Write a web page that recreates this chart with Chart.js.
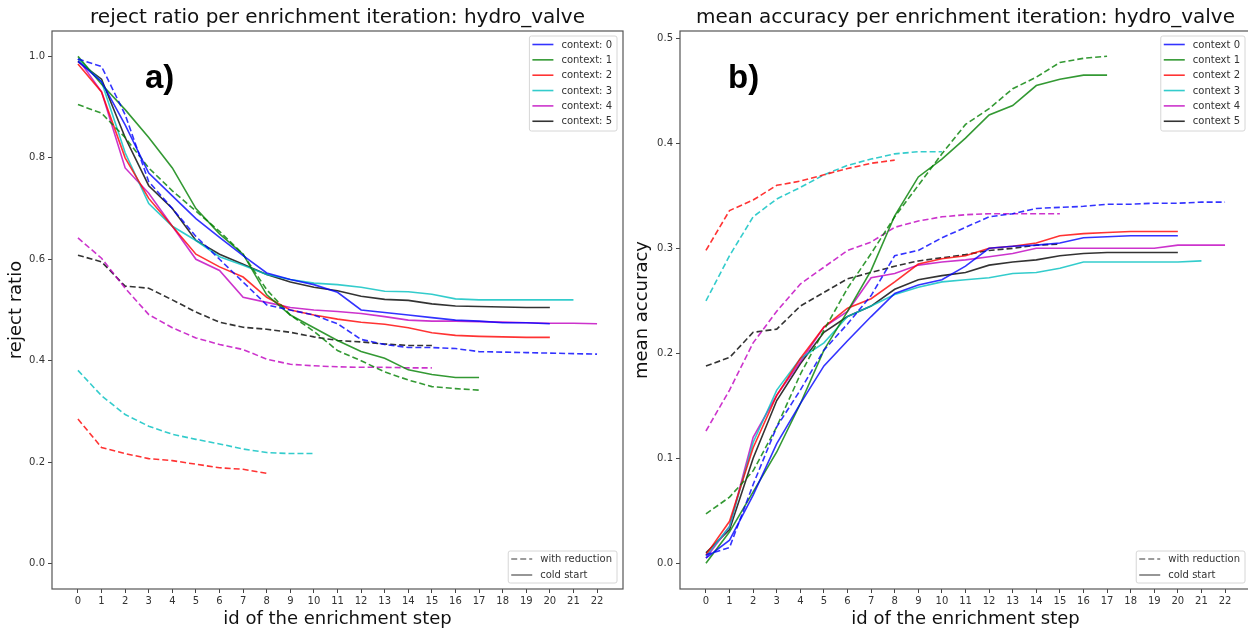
<!DOCTYPE html>
<html>
<head>
<meta charset="utf-8">
<script src="https://cdn.jsdelivr.net/npm/chart.js@4.4.1/dist/chart.umd.min.js"></script>
<style>
  html, body { margin: 0; padding: 0; background: #fff; overflow: hidden; }
  #wrap { position: relative; width: 1248px; height: 633px; overflow: hidden; }
  #c1 { position: absolute; left: 0; top: 0; }
  #c2 { position: absolute; left: 624px; top: 0; }
</style>
</head>
<body>
<div id="wrap">
  <canvas id="c1" width="624" height="633" style="width:624px;height:633px"></canvas>
  <canvas id="c2" width="632" height="633" style="width:632px;height:633px"></canvas>
</div>
<script>
// x axis: id of the enrichment step
const xTicks = [0, 1, 2, 3, 4, 5, 6, 7, 8, 9, 10, 11, 12, 13, 14, 15, 16, 17, 18, 19, 20, 21, 22]
const rejectTicks = [0, 0.2, 0.4, 0.6, 0.8, 1.0]
const accTicks = [0, 0.1, 0.2, 0.3, 0.4, 0.5]
const contexts = [0, 1, 2, 3, 4, 5]
const colors = ['rgba(0,0,255,0.8)', 'rgba(0,128,0,0.8)', 'rgba(255,0,0,0.8)',
                'rgba(0,191,191,0.8)', 'rgba(191,0,191,0.8)', 'rgba(0,0,0,0.8)']

// reject ratio, cold start (solid), one row per context
const rejectCold = [
  [0.99, 0.95, 0.865, 0.77, 0.725, 0.68, 0.643, 0.607, 0.573, 0.56, 0.55, 0.535, 0.50, 0.495, 0.49, 0.485, 0.48, 0.478, 0.475, 0.475, 0.473],
  [1.0, 0.945, 0.895, 0.84, 0.78, 0.70, 0.65, 0.61, 0.53, 0.49, 0.465, 0.44, 0.418, 0.405, 0.382, 0.373, 0.367, 0.367],
  [0.985, 0.93, 0.80, 0.72, 0.665, 0.61, 0.585, 0.565, 0.525, 0.50, 0.49, 0.482, 0.476, 0.472, 0.465, 0.455, 0.45, 0.448, 0.447, 0.446, 0.446],
  [0.995, 0.95, 0.81, 0.71, 0.665, 0.637, 0.605, 0.588, 0.57, 0.56, 0.553, 0.55, 0.545, 0.537, 0.536, 0.531, 0.522, 0.52, 0.52, 0.52, 0.52, 0.52],
  [0.995, 0.93, 0.78, 0.73, 0.665, 0.60, 0.578, 0.525, 0.515, 0.505, 0.50, 0.497, 0.493, 0.487, 0.48, 0.478, 0.478, 0.477, 0.476, 0.475, 0.474, 0.474, 0.473],
  [0.99, 0.955, 0.84, 0.745, 0.70, 0.637, 0.61, 0.59, 0.57, 0.555, 0.545, 0.538, 0.527, 0.521, 0.519, 0.512, 0.508, 0.507, 0.506, 0.505, 0.505]
]
// reject ratio, with reduction (dashed)
const rejectReduced = [
  [0.995, 0.98, 0.885, 0.753, 0.70, 0.645, 0.60, 0.555, 0.51, 0.50, 0.49, 0.473, 0.442, 0.432, 0.426, 0.426, 0.424, 0.418, 0.417, 0.416, 0.415, 0.414, 0.413],
  [0.905, 0.888, 0.84, 0.78, 0.735, 0.695, 0.655, 0.61, 0.54, 0.49, 0.458, 0.42, 0.40, 0.378, 0.362, 0.349, 0.345, 0.342],
  [0.285, 0.229, 0.217, 0.207, 0.203, 0.196, 0.189, 0.186, 0.178],
  [0.381, 0.331, 0.294, 0.271, 0.255, 0.245, 0.236, 0.226, 0.219, 0.217, 0.217],
  [0.642, 0.602, 0.543, 0.491, 0.465, 0.445, 0.432, 0.422, 0.403, 0.393, 0.39, 0.388, 0.387, 0.387, 0.386, 0.386],
  [0.608, 0.595, 0.547, 0.543, 0.52, 0.496, 0.476, 0.466, 0.462, 0.456, 0.447, 0.44, 0.437, 0.433, 0.43, 0.43]
]
// mean accuracy, cold start (solid)
const accCold = [
  [0.005, 0.022, 0.065, 0.114, 0.152, 0.188, 0.212, 0.235, 0.257, 0.265, 0.27, 0.283, 0.30, 0.302, 0.303, 0.305, 0.31, 0.311, 0.312, 0.312, 0.312],
  [0.0, 0.03, 0.068, 0.106, 0.152, 0.203, 0.24, 0.279, 0.331, 0.368, 0.385, 0.405, 0.427, 0.436, 0.455, 0.461, 0.465, 0.465],
  [0.008, 0.04, 0.11, 0.16, 0.195, 0.225, 0.243, 0.252, 0.268, 0.285, 0.29, 0.293, 0.30, 0.302, 0.305, 0.312, 0.314, 0.315, 0.316, 0.316, 0.316],
  [0.007, 0.035, 0.115, 0.165, 0.195, 0.21, 0.235, 0.245, 0.256, 0.263, 0.268, 0.27, 0.272, 0.276, 0.277, 0.281, 0.287, 0.287, 0.287, 0.287, 0.287, 0.288],
  [0.005, 0.035, 0.12, 0.16, 0.192, 0.225, 0.24, 0.272, 0.276, 0.284, 0.287, 0.289, 0.292, 0.295, 0.30, 0.30, 0.30, 0.30, 0.30, 0.30, 0.303, 0.303, 0.303],
  [0.01, 0.032, 0.10, 0.155, 0.19, 0.22, 0.235, 0.245, 0.261, 0.27, 0.274, 0.277, 0.284, 0.287, 0.289, 0.293, 0.295, 0.296, 0.296, 0.296, 0.296]
]
// mean accuracy, with reduction (dashed)
const accReduced = [
  [0.008, 0.015, 0.075, 0.13, 0.165, 0.203, 0.228, 0.255, 0.293, 0.298, 0.31, 0.32, 0.33, 0.333, 0.338, 0.339, 0.34, 0.342, 0.342, 0.343, 0.343, 0.344, 0.344],
  [0.047, 0.063, 0.088, 0.13, 0.18, 0.222, 0.262, 0.295, 0.33, 0.36, 0.39, 0.418, 0.433, 0.452, 0.463, 0.477, 0.481, 0.483],
  [0.298, 0.336, 0.346, 0.36, 0.364, 0.37, 0.376, 0.381, 0.384],
  [0.25, 0.293, 0.33, 0.347, 0.358, 0.37, 0.379, 0.385, 0.39, 0.392, 0.392],
  [0.126, 0.165, 0.21, 0.24, 0.266, 0.282, 0.298, 0.306, 0.32, 0.326, 0.33, 0.332, 0.333, 0.333, 0.333, 0.333],
  [0.188, 0.196, 0.22, 0.223, 0.245, 0.258, 0.271, 0.277, 0.283, 0.288, 0.291, 0.294, 0.298, 0.300, 0.303, 0.304]
]

const FONT = '"DejaVu Sans", sans-serif'
const DASH = [6, 3]

function buildDatasets(cold, reduced) {
  let sets = []
  contexts.forEach((c, i) => {
    sets.push({
      label: 'reduction ' + c,
      data: reduced[i].map((v, k) => ({ x: xTicks[k], y: v })),
      borderColor: colors[i],
      borderWidth: 1.6,
      borderDash: DASH,
      pointRadius: 0,
      tension: 0,
      fill: false
    })
    sets.push({
      label: 'cold ' + c,
      data: cold[i].map((v, k) => ({ x: xTicks[k], y: v })),
      borderColor: colors[i],
      borderWidth: 1.6,
      pointRadius: 0,
      tension: 0,
      fill: false
    })
  })
  return sets
}

function legendBox(ctx, right, top, w, h) {
  ctx.beginPath()
  ctx.roundRect(right - w, top, w, h, 2)
  ctx.fillStyle = 'rgba(255,255,255,0.85)'
  ctx.fill()
  ctx.strokeStyle = '#d6d6d6'
  ctx.lineWidth = 1
  ctx.stroke()
}

// frame, panel letter and the two legends, drawn inside the axes like matplotlib does
const decor = {
  id: 'decor',
  afterDraw(chart, args, opts) {
    const ctx = chart.ctx
    const ca = chart.chartArea
    ctx.save()
    ctx.strokeStyle = '#555'
    ctx.lineWidth = 1.2
    ctx.strokeRect(ca.left, ca.top, ca.right - ca.left, ca.bottom - ca.top)

    ctx.fillStyle = '#000'
    ctx.font = 'bold 33px "Liberation Sans", sans-serif'
    ctx.textBaseline = 'alphabetic'
    ctx.fillText(opts.letter, opts.letterX, 88)

    // context legend (top right)
    ctx.font = '10px ' + FONT
    let labels = contexts.map((c) => opts.prefix + c)
    let tw = Math.max(...labels.map((t) => ctx.measureText(t).width))
    let w = 3 + 21 + 8 + tw + 5
    let right = ca.right - 6
    let top = ca.top + 5
    legendBox(ctx, right, top, w, 95)
    labels.forEach((t, i) => {
      let y = top + 8.5 + i * 15.35
      ctx.beginPath()
      ctx.setLineDash([])
      ctx.strokeStyle = colors[i]
      ctx.lineWidth = 1.6
      ctx.moveTo(right - w + 3, y)
      ctx.lineTo(right - w + 24, y)
      ctx.stroke()
      ctx.fillStyle = '#333'
      ctx.textBaseline = 'middle'
      ctx.fillText(t, right - w + 32, y + 0.5)
    })

    // line style legend (bottom right)
    let styles = [['with reduction', DASH], ['cold start', []]]
    tw = Math.max(...styles.map((s) => ctx.measureText(s[0]).width))
    w = 3 + 21 + 8 + tw + 5
    let bottom = ca.bottom - 6
    legendBox(ctx, right, bottom - 32, w, 32)
    styles.forEach((s, i) => {
      let y = bottom - 32 + 8 + i * 16
      ctx.beginPath()
      ctx.setLineDash(s[1])
      ctx.strokeStyle = 'rgba(110,110,110,0.9)'
      ctx.lineWidth = 1.6
      ctx.moveTo(right - w + 3, y)
      ctx.lineTo(right - w + 24, y)
      ctx.stroke()
      ctx.setLineDash([])
      ctx.fillStyle = '#333'
      ctx.textBaseline = 'middle'
      ctx.fillText(s[0], right - w + 32, y + 0.5)
    })
    ctx.restore()
  }
}

function makeConfig(p) {
  return {
    type: 'line',
    data: { datasets: buildDatasets(p.cold, p.reduced) },
    plugins: [decor],
    options: {
      responsive: false,
      animation: false,
      layout: { padding: { left: 0, right: p.padRight, top: 0, bottom: 0 } },
      plugins: {
        legend: { display: false },
        tooltip: { enabled: false },
        title: {
          display: true,
          text: p.title,
          fullSize: false,
          color: '#111',
          font: { family: FONT, size: 20, weight: 'normal' },
          padding: { top: 6, bottom: 1 }
        },
        decor: { letter: p.letter, letterX: p.letterX, prefix: p.prefix }
      },
      scales: {
        x: {
          type: 'linear',
          min: -1.1,
          max: 23.1,
          afterFit: (s) => { s.height = 44 },
          afterBuildTicks: (s) => { s.ticks = xTicks.map((v) => ({ value: v })) },
          grid: { display: true, drawOnChartArea: false, drawTicks: true, tickLength: 4, color: '#444' },
          border: { display: false },
          ticks: { color: '#333', font: { family: FONT, size: 10 }, padding: 2, maxRotation: 0, autoSkip: false,
                   callback: (v) => String(v) },
          title: { display: true, text: 'id of the enrichment step', color: '#111',
                   font: { family: FONT, size: 18 }, padding: { top: 0, bottom: 3 } }
        },
        y: {
          type: 'linear',
          min: p.yMin,
          max: p.yMax,
          afterFit: (s) => { s.width = p.yWidth },
          afterBuildTicks: (s) => { s.ticks = p.yTicks.map((v) => ({ value: v })) },
          grid: { display: true, drawOnChartArea: false, drawTicks: true, tickLength: 4, color: '#444' },
          border: { display: false },
          ticks: { color: '#333', font: { family: FONT, size: 10 }, padding: 3,
                   callback: (v) => v.toFixed(1) },
          title: { display: true, text: p.yLabel, color: '#111',
                   font: { family: FONT, size: 18 }, padding: { top: p.yTitlePad, bottom: 0 } }
        }
      }
    }
  }
}

new Chart(document.getElementById('c1'), makeConfig({
  cold: rejectCold, reduced: rejectReduced,
  title: 'reject ratio per enrichment iteration: hydro_valve',
  yLabel: 'reject ratio', yTicks: rejectTicks, yMin: -0.05, yMax: 1.05,
  yWidth: 52, yTitlePad: 6, padRight: 1,
  letter: 'a)', letterX: 145, prefix: 'context: '
}))

new Chart(document.getElementById('c2'), makeConfig({
  cold: accCold, reduced: accReduced,
  title: 'mean accuracy per enrichment iteration: hydro_valve',
  yLabel: 'mean accuracy', yTicks: accTicks, yMin: -0.0245, yMax: 0.507,
  yWidth: 56, yTitlePad: 8, padRight: 5,
  letter: 'b)', letterX: 104, prefix: 'context '
}))
</script>
</body>
</html>
